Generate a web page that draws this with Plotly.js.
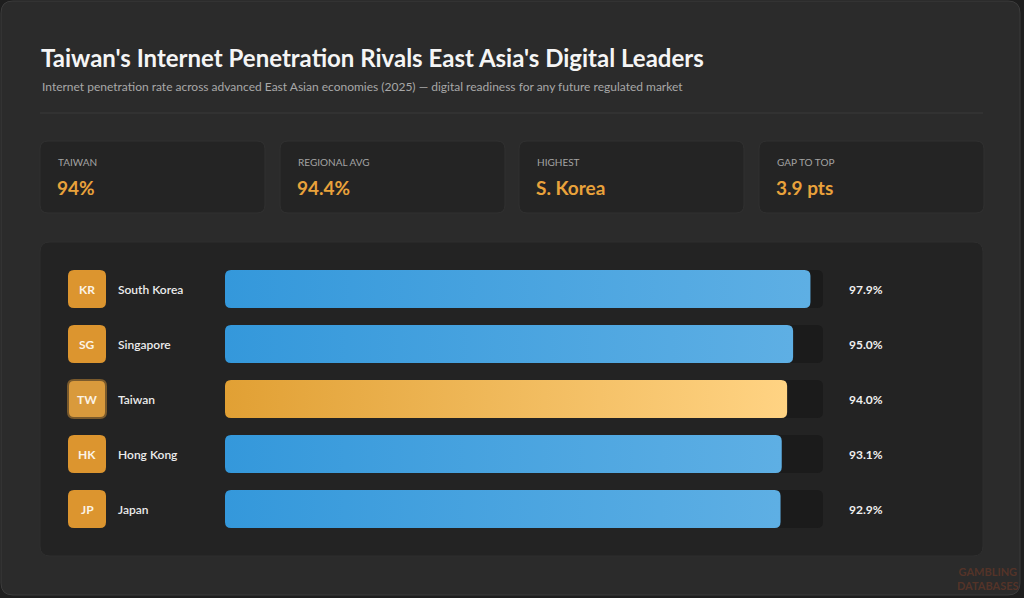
<!DOCTYPE html>
<html><head><meta charset="utf-8">
<script src="https://cdn.plot.ly/plotly-3.0.1.min.js"></script>
<style>html,body{margin:0;padding:0;background:#1e1e1e;}#chart{width:1024px;height:598px;}</style>
</head><body><div id="chart"></div>
<script>
// ---- data ----
const countries = ['South Korea', 'Singapore', 'Taiwan', 'Hong Kong', 'Japan'];
const codes = ['KR', 'SG', 'TW', 'HK', 'JP'];
const penetration = [97.9, 95.0, 94.0, 93.1, 92.9];
const highlight = 'Taiwan';
const statLabels = ['TAIWAN', 'REGIONAL AVG', 'HIGHEST', 'GAP TO TOP'];
const statValues = ['94%', '94.4%', 'S. Korea', '3.9 pts'];
const titleText = "Taiwan's Internet Penetration Rivals East Asia's Digital Leaders";
const subtitleText = 'Internet penetration rate across advanced East Asian economies (2025) — digital readiness for any future regulated market';
const scaleMax = 100;

// ---- layout helpers (pixel -> paper) ----
const W = 1024, H = 598;
const px = x => x / W;
const py = y => 1 - y / H;
function rrect(x0, y0, x1, y1, r) {
  const P = (x, y) => px(x).toFixed(5) + ',' + py(y).toFixed(5);
  return 'M' + P(x0 + r, y0) + ' L' + P(x1 - r, y0) + ' Q' + P(x1, y0) + ' ' + P(x1, y0 + r) +
    ' L' + P(x1, y1 - r) + ' Q' + P(x1, y1) + ' ' + P(x1 - r, y1) +
    ' L' + P(x0 + r, y1) + ' Q' + P(x0, y1) + ' ' + P(x0, y1 - r) +
    ' L' + P(x0, y0 + r) + ' Q' + P(x0, y0) + ' ' + P(x0 + r, y0) + ' Z';
}
function pixRect(h, r) {
  return `M${-h + r},${-h} L${h - r},${-h} Q${h},${-h} ${h},${-h + r} L${h},${h - r} Q${h},${h} ${h - r},${h} L${-h + r},${h} Q${-h},${h} ${-h},${h - r} L${-h},${-h + r} Q${-h},${-h} ${-h + r},${-h} Z`;
}
const FONT = "Lato, 'Noto Sans', sans-serif";

const shapes = [];
const annotations = [];

// card
shapes.push({type: 'path', xref: 'paper', yref: 'paper', path: rrect(1, 1, 1020, 595, 12),
  fillcolor: '#2b2b2b', line: {color: '#3c3c3c', width: 1}, layer: 'below'});
// divider
shapes.push({type: 'line', xref: 'paper', yref: 'paper', x0: px(40), x1: px(983), y0: py(113), y1: py(113),
  line: {color: '#3a3a3a', width: 1}, layer: 'below'});
// stat cards
const statX = [40, 280, 519, 759];
statLabels.forEach((lab, i) => {
  const x0 = statX[i];
  shapes.push({type: 'path', xref: 'paper', yref: 'paper', path: rrect(x0, 141, x0 + 225, 213, 8),
    fillcolor: '#242424', line: {color: '#313131', width: 1}, layer: 'below'});
  annotations.push({xref: 'paper', yref: 'paper', x: px(x0 + 16), y: py(162), xanchor: 'left', yanchor: 'middle',
    text: lab, showarrow: false, font: {family: FONT, size: 10, color: '#a3a3a3'}});
  annotations.push({xref: 'paper', yref: 'paper', x: px(x0 + 15), y: py(187), xanchor: 'left', yanchor: 'middle',
    text: statValues[i], showarrow: false, font: {family: FONT, size: 19, weight: 700, color: '#e9a23b'}});
});
// chart panel
shapes.push({type: 'path', xref: 'paper', yref: 'paper', path: rrect(40, 242, 983, 556, 10),
  fillcolor: '#232323', line: {color: '#2f2f2f', width: 1}, layer: 'below'});

// title / subtitle
annotations.push({xref: 'paper', yref: 'paper', x: px(39), y: py(57), xanchor: 'left', yanchor: 'middle',
  text: '<b>' + titleText + '</b>', showarrow: false, font: {family: FONT, size: 24, color: '#f5f5f5'}});
annotations.push({xref: 'paper', yref: 'paper', x: px(40), y: py(86), xanchor: 'left', yanchor: 'middle',
  text: subtitleText, showarrow: false, font: {family: FONT, size: 12, color: '#a8a8a8'}});

// rows: badges, names, values
countries.forEach((c, i) => {
  const hl = c === highlight;
  shapes.push({type: 'path', xref: 'paper', yref: 'y', xsizemode: 'pixel', ysizemode: 'pixel',
    xanchor: px(87), yanchor: i, path: pixRect(19, 6),
    fillcolor: hl ? '#d99a3c' : '#dc952f',
    line: {color: hl ? '#7a5a2c' : 'rgba(0,0,0,0)', width: hl ? 2 : 0}});
  annotations.push({xref: 'paper', yref: 'y', x: px(87), y: c, xanchor: 'center', yanchor: 'middle',
    text: '<b>' + codes[i] + '</b>', showarrow: false, font: {family: FONT, size: 12, color: '#fbf3e6'}});
  annotations.push({xref: 'paper', yref: 'y', x: px(116), y: c, xanchor: 'left', yanchor: 'middle',
    text: c, showarrow: false, font: {family: FONT, size: 12, weight: 600, color: '#ececec'}});
  annotations.push({xref: 'paper', yref: 'y', x: px(847), y: c, xanchor: 'left', yanchor: 'middle',
    text: '<b>' + penetration[i].toFixed(1) + '%</b>', showarrow: false, font: {family: FONT, size: 12, color: '#f0f0f0'}});
});

// watermark
annotations.push({xref: 'paper', yref: 'paper', x: px(988), y: py(578), xanchor: 'center', yanchor: 'middle',
  text: '<b>GAMBLING<br>DATABASES</b>', showarrow: false, font: {family: FONT, size: 11, color: 'rgba(150,65,35,0.4)'}});

const traces = [
  {type: 'bar', orientation: 'h', y: countries, x: countries.map(() => scaleMax),
    marker: {color: '#1b1b1b', cornerradius: 6}, width: 0.69, hoverinfo: 'skip'},
  {type: 'bar', orientation: 'h', y: countries, x: penetration,
    marker: {color: countries.map(c => c === highlight ? '#eeb555' : '#4aa3e0'), cornerradius: 6},
    width: 0.69, hovertemplate: '%{y}: %{x:.1f}%<extra></extra>'}
];

const layout = {
  width: W, height: H, margin: {l: 0, r: 0, t: 0, b: 0},
  paper_bgcolor: '#1e1e1e', plot_bgcolor: 'rgba(0,0,0,0)',
  barmode: 'overlay', showlegend: false,
  xaxis: {domain: [225 / W, 823 / W], range: [0, scaleMax], visible: false, fixedrange: true},
  yaxis: {domain: [1 - 536.5 / H, 1 - 261.5 / H], type: 'category', categoryarray: countries,
    categoryorder: 'array', range: [4.5, -0.5], visible: false, fixedrange: true},
  shapes: shapes, annotations: annotations
};

function roundAll(path, r) {
  const b = path.getBBox();
  const x0 = b.x, y0 = b.y, x1 = b.x + b.width, y1 = b.y + b.height;
  r = Math.min(r, b.width / 2, b.height / 2);
  path.setAttribute('d', `M${x0 + r},${y0}H${x1 - r}Q${x1},${y0} ${x1},${y0 + r}V${y1 - r}Q${x1},${y1} ${x1 - r},${y1}H${x0 + r}Q${x0},${y1} ${x0},${y1 - r}V${y0 + r}Q${x0},${y0} ${x0 + r},${y0}Z`);
}

function applyGradients() {
  const svg = document.querySelector('#chart .main-svg');
  if (!svg) return;
  const ns = 'http://www.w3.org/2000/svg';
  let defs = svg.querySelector('defs');
  if (!defs) { defs = document.createElementNS(ns, 'defs'); svg.insertBefore(defs, svg.firstChild); }
  const mk = (id, a, b) => {
    if (document.getElementById(id)) return;
    const g = document.createElementNS(ns, 'linearGradient');
    g.setAttribute('id', id); g.setAttribute('x1', '0'); g.setAttribute('x2', '1'); g.setAttribute('y1', '0'); g.setAttribute('y2', '0');
    [[0, a], [1, b]].forEach(([o, c]) => {
      const s = document.createElementNS(ns, 'stop');
      s.setAttribute('offset', o); s.setAttribute('stop-color', c); g.appendChild(s);
    });
    defs.appendChild(g);
  };
  mk('gBlue', '#3498db', '#5eafe4');
  mk('gGold', '#e1a034', '#ffd383');
  const tr = document.querySelectorAll('#chart .barlayer .trace');
  if (tr.length < 2) return;
  tr[0].querySelectorAll('.point path').forEach(p => roundAll(p, 6));
  tr[1].querySelectorAll('.point path').forEach((p, i) => {
    roundAll(p, 6);
    p.style.fill = 'url(#' + (countries[i] === highlight ? 'gGold' : 'gBlue') + ')';
  });
}

Plotly.newPlot('chart', traces, layout, {displayModeBar: false, staticPlot: true}).then(applyGradients);
</script>
</body></html>
